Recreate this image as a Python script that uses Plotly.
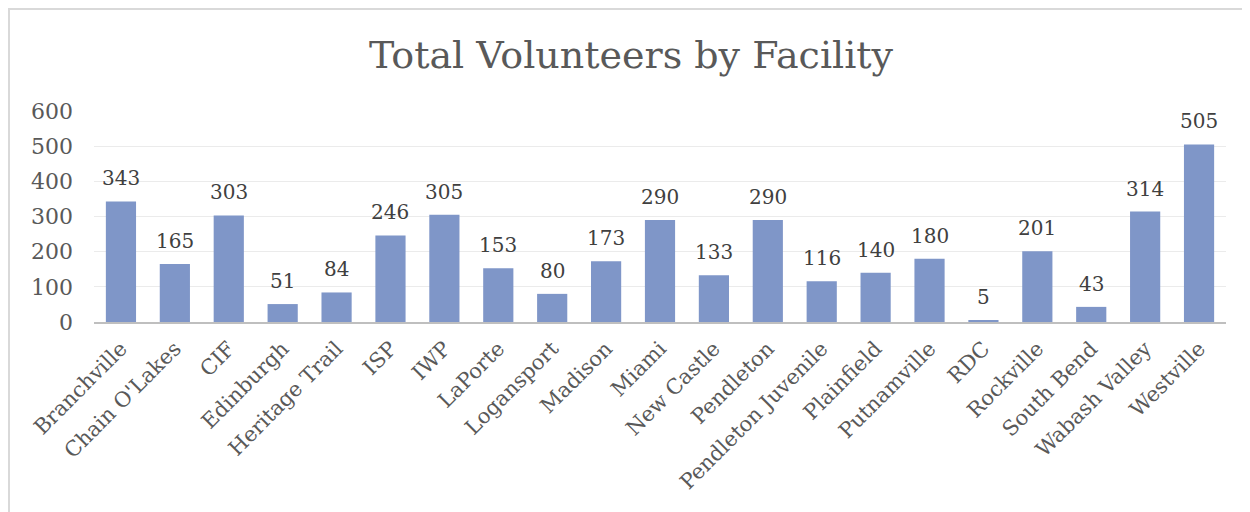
import plotly.graph_objects as go

facilities = ["Branchville", "Chain O'Lakes", "CIF", "Edinburgh", "Heritage Trail", "ISP", "IWP",
              "LaPorte", "Logansport", "Madison", "Miami", "New Castle", "Pendleton",
              "Pendleton Juvenile", "Plainfield", "Putnamville", "RDC", "Rockville", "South Bend",
              "Wabash Valley", "Westville"]
volunteers = [343, 165, 303, 51, 84, 246, 305, 153, 80, 173, 290, 133, 290, 116, 140, 180, 5, 201, 43, 314, 505]
y_ticks = [0, 100, 200, 300, 400, 500, 600]

FONT = "DejaVu Serif"
OFF = 8  # page body margin

L, R_EDGE, TOP, BOT = 94 - OFF, 1226 - OFF, 111 - OFF, 322 - OFF
PW, PH = R_EDGE - L, BOT - TOP

fig = go.Figure(go.Bar(
    x=facilities, y=volunteers,
    marker=dict(color="#7F96C8", line=dict(width=0)),
    hoverinfo="x+y",
))

for f, v in zip(facilities, volunteers):
    fig.add_annotation(x=f, y=v, text=str(v), showarrow=False, yanchor="bottom",
                       yshift=9, font=dict(family=FONT, size=20, color="#404040"))

fig.update_layout(
    width=1250, height=512,
    margin=dict(l=L, r=1250 - R_EDGE, t=TOP, b=512 - BOT),
    paper_bgcolor="white", plot_bgcolor="white",
    bargap=0.44,
    showlegend=False,
    title=dict(text="Total Volunteers by Facility", x=(631 - OFF) / 1250, xanchor="center",
               y=1 - (55 - OFF) / 512, yanchor="middle",
               font=dict(family=FONT, size=38, color="#595959")),
    font=dict(family=FONT, color="#595959"),
    xaxis=dict(tickangle=-45, tickfont=dict(family=FONT, size=21, color="#595959"),
               showline=True, linecolor="#BFBFBF", linewidth=2, showgrid=False,
               ticks="", ticklen=0, automargin=False, ticklabelstandoff=4),
    yaxis=dict(range=[0, 600], tickvals=y_ticks, tickfont=dict(family=FONT, size=22, color="#595959"),
               showgrid=True, gridcolor="#EBEBEB", gridwidth=1, zeroline=False,
               showline=False, ticks="", ticklabelstandoff=20, automargin=False),
    shapes=[dict(type="rect", xref="paper", yref="paper",
                 x0=(1 - L) / PW, x1=(1280 - L) / PW,
                 y0=(BOT - 560) / PH, y1=(BOT - 1) / PH,
                 line=dict(color="#D9D9D9", width=2), fillcolor="rgba(0,0,0,0)", layer="below")],
)

fig.write_html("out.html")
